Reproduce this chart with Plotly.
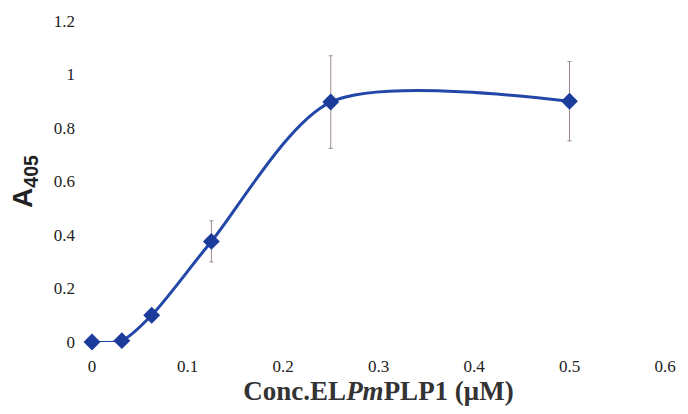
import plotly.graph_objects as go

conc = [0, 0.03125, 0.0625, 0.125, 0.25, 0.5]
a405 = [0.0, 0.005, 0.10, 0.376, 0.897, 0.90]
err = [0, 0, 0, 0.077, 0.173, 0.148]
x_ticks = [0, 0.1, 0.2, 0.3, 0.4, 0.5, 0.6]
y_ticks = [0, 0.2, 0.4, 0.6, 0.8, 1.0, 1.2]
y_ticktext = ["0", "0.2", "0.4", "0.6", "0.8", "1", "1.2"]

fig = go.Figure()
fig.add_trace(go.Scatter(
    x=conc, y=a405,
    mode="lines+markers",
    line=dict(color="#2347a8", width=3, shape="spline", smoothing=0.8),
    marker=dict(symbol="diamond", size=13, color="#1c3c9c"),
    error_y=dict(type="data", array=err, visible=True, color="#9a8a8a",
                 thickness=1, width=2),
    cliponaxis=False,
    showlegend=False,
))

serif = "Liberation Serif, Times New Roman, serif"
fig.update_layout(
    width=688, height=414,
    margin=dict(l=92, r=18, t=18, b=72),
    paper_bgcolor="white", plot_bgcolor="white",
    xaxis=dict(range=[0, 0.6], tickvals=x_ticks, ticktext=[str(v) for v in x_ticks],
               showgrid=False, zeroline=False, showline=False, ticks="",
               ticklabelstandoff=12,
               tickfont=dict(family=serif, size=17, color="#222"),
               title=dict(text="<b>Conc.EL<i>Pm</i>PLP1 (μM)</b>", standoff=2,
                          font=dict(family=serif, size=27, color="#333"))),
    yaxis=dict(range=[0, 1.2], tickvals=y_ticks, ticktext=y_ticktext,
               showgrid=False, zeroline=False, showline=False, ticks="",
               ticklabelstandoff=16,
               tickfont=dict(family=serif, size=17, color="#222"),
               title=dict(text="<b>A<sub>405</sub></b>", standoff=12,
                          font=dict(family="Liberation Sans, Arial, sans-serif", size=28, color="#222"))),
)

fig.write_html("out.html")
